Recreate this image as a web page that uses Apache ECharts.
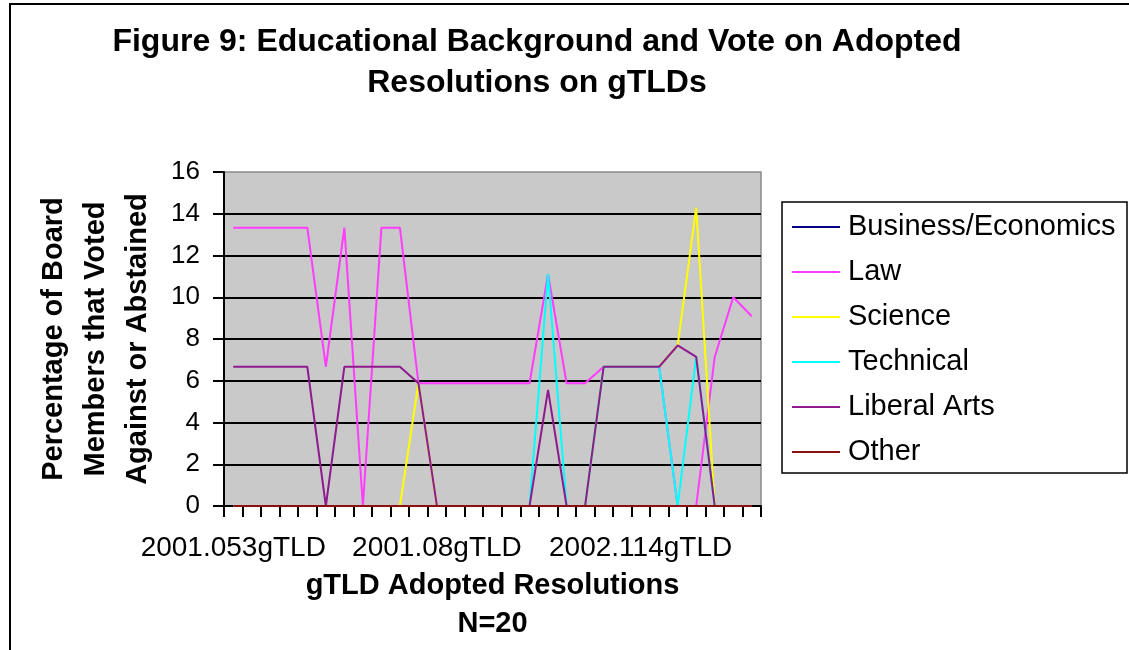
<!DOCTYPE html>
<html>
<head>
<meta charset="utf-8">
<script src="https://cdn.jsdelivr.net/npm/echarts@6/dist/echarts.min.js"></script>
<style>
  html, body { margin: 0; padding: 0; background: #ffffff; }
  #chart { width: 1129px; height: 650px; }
</style>
</head>
<body>
<div id="chart"></div>
<script>
// Resolution labels (only every 11th one is printed on the axis)
const categories = [
  '2001.053gTLD', '', '', '', '', '', '', '', '', '', '',
  '2001.08gTLD', '', '', '', '', '', '', '', '', '', '',
  '2002.114gTLD', '', '', '', '', '', ''
];

// Percentage of board members that voted against or abstained, by background
const business  = [0, 0, 0, 0, 0, 0, 0, 0, 0, 0, 0, 0, 0, 0, 0, 0, 0, 0, 0, 0, 0, 0, 0, 0, 0, 0, 0, 0, 0];
const law       = [13.33, 13.33, 13.33, 13.33, 13.33, 6.67, 13.33, 0, 13.33, 13.33,
                   5.88, 5.88, 5.88, 5.88, 5.88, 5.88, 5.88, 11.11, 5.88, 5.88,
                   6.67, 6.67, 6.67, 6.67, 0, 0, 7.14, 10, 9.09];
const science   = [0, 0, 0, 0, 0, 0, 0, 0, 0, 0,
                   5.88, 0, 0, 0, 0, 0, 0, 0, 0, 0,
                   6.67, 6.67, 6.67, 6.67, 7.69, 14.29, 0, 0, 0];
const technical = [0, 0, 0, 0, 0, 0, 0, 0, 0, 0,
                   0, 0, 0, 0, 0, 0, 0, 11.11, 0, 0,
                   6.67, 6.67, 6.67, 6.67, 0, 7.14, 0, 0, 0];
const liberal   = [6.67, 6.67, 6.67, 6.67, 6.67, 0, 6.67, 6.67, 6.67, 6.67,
                   5.88, 0, 0, 0, 0, 0, 0, 5.56, 0, 0,
                   6.67, 6.67, 6.67, 6.67, 7.69, 7.14, 0, 0, 0];
const other     = [0, 0, 0, 0, 0, 0, 0, 0, 0, 0, 0, 0, 0, 0, 0, 0, 0, 0, 0, 0, 0, 0, 0, 0, 0, 0, 0, 0, 0];

const seriesNames  = ['Business/Economics', 'Law', 'Science', 'Technical', 'Liberal Arts', 'Other'];
const seriesValues = [business, law, science, technical, liberal, other];
const seriesColors = ['#000080', '#ff3cff', '#ffff00', '#00ffff', '#8e1a8e', '#8b1111'];

const FONT = '"Liberation Sans", Arial, sans-serif';

const chart = echarts.init(document.getElementById('chart'), null, { renderer: 'canvas' });

chart.setOption({
  animation: false,
  backgroundColor: '#ffffff',
  title: {
    text: 'Figure 9: Educational Background and Vote on Adopted\nResolutions on gTLDs',
    left: 537,
    top: 22,
    textAlign: 'center',
    padding: 0,
    textStyle: {
      fontFamily: FONT,
      fontSize: 32,
      fontWeight: 'bold',
      color: '#000000',
      lineHeight: 41
    }
  },
  grid: {
    left: 224,
    right: 368,
    top: 172,
    bottom: 144,
    show: true,
    backgroundColor: '#c9c9c9',
    borderColor: '#8a8a8a',
    borderWidth: 1.5
  },
  legend: {
    orient: 'vertical',
    left: 792,
    top: 212,
    padding: 0,
    itemGap: 15,
    icon: 'rect',
    itemWidth: 48,
    itemHeight: 2,
    data: seriesNames,
    textStyle: {
      fontFamily: FONT,
      fontSize: 29,
      color: '#000000',
      lineHeight: 30,
      padding: [0, 0, 0, 3]
    }
  },
  xAxis: {
    type: 'category',
    data: categories,
    boundaryGap: true,
    name: 'gTLD Adopted Resolutions\nN=20',
    nameLocation: 'middle',
    nameGap: 60,
    nameTextStyle: {
      fontFamily: FONT,
      fontSize: 29,
      fontWeight: 'bold',
      color: '#000000',
      lineHeight: 38
    },
    axisLine: { show: true, onZero: false, lineStyle: { color: '#000000', width: 2 } },
    axisTick: { show: true, interval: 0, length: 11, lineStyle: { color: '#000000', width: 2 } },
    axisLabel: {
      interval: 10,
      margin: 28,
      fontFamily: FONT,
      fontSize: 28,
      color: '#000000'
    },
    splitLine: { show: false }
  },
  yAxis: {
    type: 'value',
    min: 0,
    max: 16,
    interval: 2,
    name: 'Percentage of Board\nMembers that Voted\nAgainst or Abstained',
    nameLocation: 'middle',
    nameRotate: 90,
    nameGap: 65,
    nameTextStyle: {
      fontFamily: FONT,
      fontSize: 29,
      fontWeight: 'bold',
      color: '#000000',
      lineHeight: 42
    },
    axisLine: { show: true, lineStyle: { color: '#000000', width: 2 } },
    axisTick: { show: true, length: 11, lineStyle: { color: '#000000', width: 2 } },
    axisLabel: {
      margin: 24,
      fontFamily: FONT,
      fontSize: 26,
      color: '#000000'
    },
    splitLine: {
      show: true,
      showMinLine: false,
      showMaxLine: false,
      lineStyle: { color: '#000000', width: 2 }
    }
  },
  graphic: [
    // outer frame (top and left edges)
    { type: 'line', shape: { x1: 9, y1: 4, x2: 1129, y2: 4 }, style: { stroke: '#000000', lineWidth: 2 }, silent: true },
    { type: 'line', shape: { x1: 10, y1: 4, x2: 10, y2: 650 }, style: { stroke: '#000000', lineWidth: 2 }, silent: true },
    // legend frame
    { type: 'rect', shape: { x: 782, y: 202, width: 345, height: 271 }, style: { fill: 'none', stroke: '#000000', lineWidth: 1.5 }, silent: true, z: -1 }
  ],
  series: seriesNames.map((name, i) => ({
    name: name,
    type: 'line',
    data: seriesValues[i],
    symbol: 'none',
    color: seriesColors[i],
    lineStyle: { color: seriesColors[i], width: 2 },
    emphasis: { disabled: true }
  }))
});
</script>
</body>
</html>
